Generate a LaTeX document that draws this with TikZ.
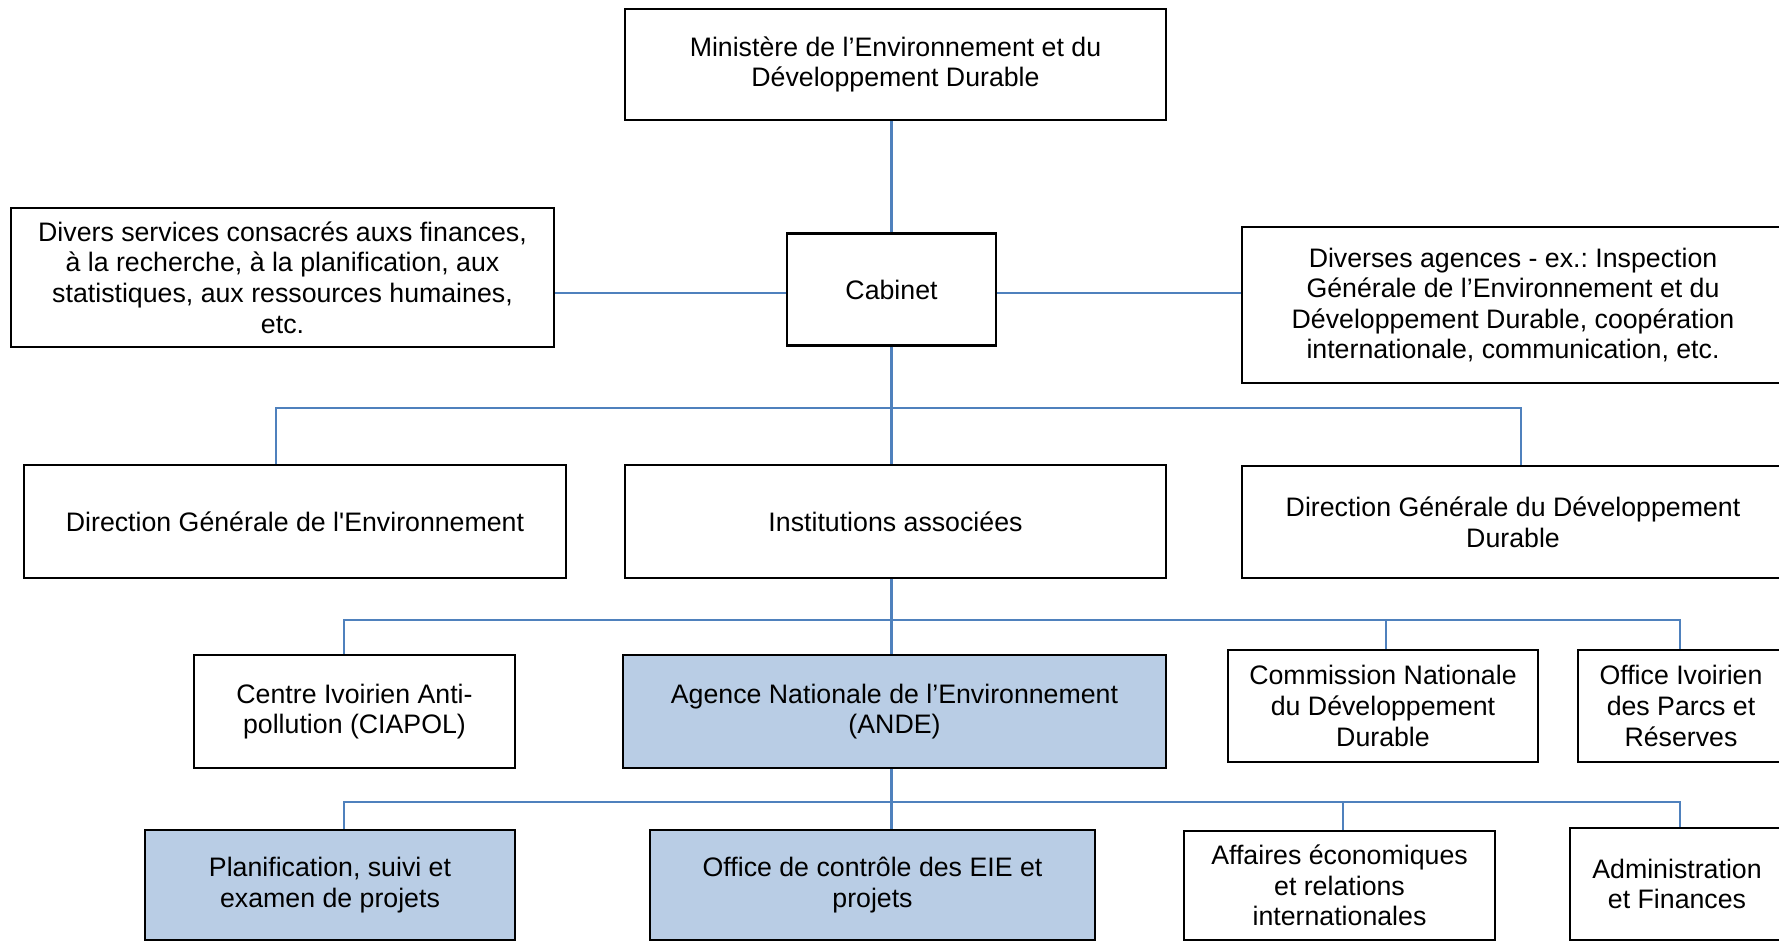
\documentclass[tikz,border=0pt]{standalone}
\usepackage{fontspec}
\newfontfamily\arialfont{Liberation Sans}
\usetikzlibrary{calc}
\definecolor{linkblue}{HTML}{4F81BD}
\definecolor{boxblue}{HTML}{B9CDE5}
\tikzset{
	box/.style={draw=black, line width=0.6pt, fill=white, align=center, inner sep=0pt, font=\arialfont\frenchspacing\fontsize{7.6}{8.7}\selectfont},
	hibox/.style={box, fill=boxblue},
	link/.style={draw=linkblue, line width=0.6pt}
}

\begin{document}
\begin{tikzpicture}[x=0.01cm, y=-0.01cm]
			%%%%% START %%%%%
			
			\useasboundingbox (0,0) rectangle (1779,941);
			
			\node[box, minimum width=5.41cm, minimum height=1.11cm] (min) at (895.5,64.5) {Ministère de l’Environnement et du\\Développement Durable};
			\node[box, minimum width=2.09cm, minimum height=1.12cm] (cab) at (891.5,289.5) {Cabinet};
			\node[box, minimum width=5.43cm, minimum height=1.39cm] (serv) at (282.5,277.5) {Divers services consacrés auxs finances,\\à la recherche, à la planification, aux\\statistiques, aux ressources humaines,\\etc.};
			\node[box, minimum width=5.42cm, minimum height=1.56cm] (agen) at (1513,305) {Diverses agences - ex.: Inspection\\Générale de l’Environnement et du\\Développement Durable, coopération\\internationale, communication, etc.};
			
			\node[box, minimum width=5.42cm, minimum height=1.13cm] (dge) at (295,521.5) {Direction Générale de l'Environnement};
			\node[box, minimum width=5.41cm, minimum height=1.13cm] (inst) at (895.5,521.5) {Institutions associées};
			\node[box, minimum width=5.42cm, minimum height=1.12cm] (dgdd) at (1513,522) {Direction Générale du Développement\\Durable};
			
			\node[box, minimum width=3.21cm, minimum height=1.13cm] (ciapol) at (354.5,711.5) {Centre Ivoirien Anti-\\pollution (CIAPOL)};
			\node[hibox, minimum width=5.43cm, minimum height=1.13cm] (ande) at (894.5,711.5) {Agence Nationale de l’Environnement\\(ANDE)};
			\node[box, minimum width=3.10cm, minimum height=1.12cm] (cndd) at (1383,706) {Commission Nationale\\du Développement\\Durable};
			\node[box, minimum width=2.06cm, minimum height=1.12cm] (oipr) at (1681,706) {Office Ivoirien\\des Parcs et\\Réserves};
			
			\node[hibox, minimum width=3.70cm, minimum height=1.10cm] (plan) at (330,885) {Planification, suivi et\\examen de projets};
			\node[hibox, minimum width=4.45cm, minimum height=1.10cm] (ctrl) at (872.5,885) {Office de contrôle des EIE et\\projets};
			\node[box, minimum width=3.11cm, minimum height=1.09cm] (aff) at (1339.5,885.5) {Affaires économiques\\et relations\\internationales};
			\node[box, minimum width=2.14cm, minimum height=1.12cm] (adm) at (1677,884) {Administration\\et Finances};
			
			\coordinate (cabmid) at (891.5,293);
			\coordinate (b2l) at (276,408);
			\coordinate (b2r) at (1521,408);
			\coordinate (b3l) at (344,620);
			\coordinate (b3m) at (1386,620);
			\coordinate (b3r) at (1680,620);
			\coordinate (b4l) at (344,802);
			\coordinate (b4m) at (1343,802);
			\coordinate (b4r) at (1680,802);
			
			\draw[link] (cab.north) -- (cab.north |- min.south);
			\draw[link] (cabmid -| cab.west) -- (cabmid -| serv.east);
			\draw[link] (cabmid -| cab.east) -- (cabmid -| agen.west);
			\draw[link] (cab.south) -- (cab.south |- inst.north);
			\draw[link] (b2l |- dge.north) -- (b2l) -- (b2r) -- (b2r |- dgdd.north);
			
			\draw[link] (inst.south -| cab.south) -- (ande.north -| cab.south);
			\draw[link] (b3l |- ciapol.north) -- (b3l) -- (b3r) -- (b3r |- oipr.north);
			\draw[link] (b3m) -- (b3m |- cndd.north);
			
			\draw[link] (ande.south -| cab.south) -- (ctrl.north -| cab.south);
			\draw[link] (b4l |- plan.north) -- (b4l) -- (b4r) -- (b4r |- adm.north);
			\draw[link] (b4m) -- (b4m |- aff.north);
			
			%%%%% END %%%%%
\end{tikzpicture}
\end{document}
